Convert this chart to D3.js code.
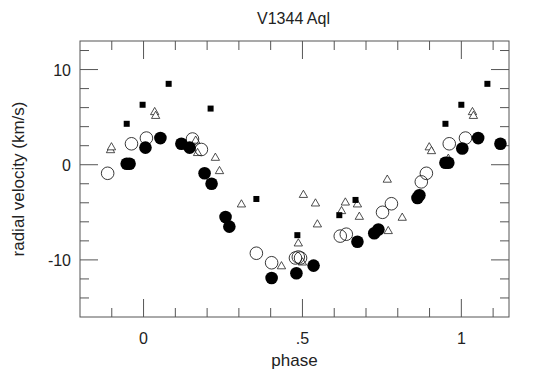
<!DOCTYPE html>
<html lang="en">
<head>
<meta charset="UTF-8">
<title>V1344 Aql</title>
<style>
  body { margin: 0; background: #fff; }
  text { font-family: "Liberation Sans", Arial, sans-serif; fill: #222; }
</style>
</head>
<body>
<div id="chart"></div>
<script src="https://d3js.org/d3.v7.min.js"></script>
<script>
  // radial velocity curve, four data sets
  const filledCircles = [
    [-0.053, 0.1], [-0.044, 0.1], [0.006, 1.8], [0.053, 2.8], [0.119, 2.2], [0.145, 1.8],
    [0.192, -0.9], [0.214, -2.0], [0.258, -5.5], [0.270, -6.5], [0.403, -11.9], [0.481, -11.4],
    [0.535, -10.6], [0.673, -8.1], [0.726, -7.2], [0.739, -6.8], [0.862, -3.5], [0.868, -3.2],
    [0.950, 0.2], [0.959, 0.2], [1.003, 1.7], [1.053, 2.8], [1.123, 2.2]
  ]
  const openCircles = [
    [-0.113, -0.9], [-0.038, 2.2], [0.009, 2.8], [0.154, 2.7], [0.182, 1.6], [0.355, -9.3],
    [0.403, -10.3], [0.478, -9.8], [0.487, -9.7], [0.494, -9.8], [0.619, -7.5], [0.638, -7.3],
    [0.752, -5.0], [0.780, -4.1], [0.874, -1.8], [0.890, -0.9], [0.962, 2.2], [1.013, 2.8]
  ]
  const squares = [
    [-0.053, 4.3], [-0.003, 6.3], [0.079, 8.5], [0.211, 5.9], [0.355, -3.6], [0.484, -7.4],
    [0.616, -5.3], [0.667, -3.7], [0.950, 4.3], [1.000, 6.3], [1.082, 8.5]
  ]
  const triangles = [
    [-0.104, 1.6], [-0.101, 1.9], [0.035, 5.6], [0.038, 5.2], [0.164, 2.6], [0.170, 1.3],
    [0.226, 0.8], [0.239, -0.6], [0.308, -4.1], [0.434, -10.6], [0.487, -8.2], [0.500, -10.2],
    [0.503, -3.1], [0.541, -4.0], [0.547, -6.2], [0.623, -4.8], [0.635, -3.9], [0.673, -4.1],
    [0.679, -5.4], [0.767, -1.5], [0.770, -6.9], [0.814, -5.5], [0.899, 1.9], [0.906, 1.5],
    [0.959, 0.7], [1.035, 5.6], [1.038, 5.2]
  ]
  const xMajor = [0, 0.5, 1]
  const xMajorLabels = ['0', '.5', '1']
  const xMinor = [-0.1, 0.1, 0.2, 0.3, 0.4, 0.6, 0.7, 0.8, 0.9, 1.1]
  const yMajor = [10, 0, -10]
  const yMinor = [12, 8, 6, 4, 2, -2, -4, -6, -8, -12, -14]

  const width = 540
  const height = 378
  const m = { left: 80, right: 31, top: 41, bottom: 61 }
  const svg = d3.select('#chart').append('svg')
    .attr('width', width).attr('height', height)

  const x = d3.scaleLinear().domain([-0.2, 1.15]).range([m.left, width - m.right])
  const y = d3.scaleLinear().domain([-16, 13]).range([height - m.bottom, m.top])
  const [x0, x1] = x.range()
  const [y0, y1] = y.range()
  const axisColor = '#555'

  // frame
  svg.append('rect')
    .attr('x', x0).attr('y', y1)
    .attr('width', x1 - x0).attr('height', y0 - y1)
    .attr('fill', 'none').attr('stroke', axisColor)

  // ticks on all four sides, pointing in
  const ticks = svg.append('g').attr('stroke', axisColor)
  const xt = xMajor.map(v => [v, 18]).concat(xMinor.map(v => [v, 9]))
  ticks.selectAll('.xb').data(xt).join('line')
    .attr('x1', d => x(d[0])).attr('x2', d => x(d[0]))
    .attr('y1', y0).attr('y2', d => y0 - d[1])
  ticks.selectAll('.xt').data(xt).join('line')
    .attr('x1', d => x(d[0])).attr('x2', d => x(d[0]))
    .attr('y1', y1).attr('y2', d => y1 + d[1])
  const yt = yMajor.map(v => [v, 18]).concat(yMinor.map(v => [v, 9]))
  ticks.selectAll('.yl').data(yt).join('line')
    .attr('y1', d => y(d[0])).attr('y2', d => y(d[0]))
    .attr('x1', x0).attr('x2', d => x0 + d[1])
  ticks.selectAll('.yr').data(yt).join('line')
    .attr('y1', d => y(d[0])).attr('y2', d => y(d[0]))
    .attr('x1', x1).attr('x2', d => x1 - d[1])

  // tick labels
  svg.append('g').selectAll('text').data(xMajor).join('text')
    .attr('x', d => x(d)).attr('y', y0 + 27)
    .attr('text-anchor', 'middle').attr('font-size', 16)
    .text((_, i) => xMajorLabels[i])
  svg.append('g').selectAll('text').data(yMajor).join('text')
    .attr('x', x0 - 9).attr('y', d => y(d) + 6)
    .attr('text-anchor', 'end').attr('font-size', 16)
    .text(d => d)

  // titles
  svg.append('text').attr('x', (x0 + x1) / 2 - 1).attr('y', 24)
    .attr('text-anchor', 'middle').attr('font-size', 16).text('V1344 Aql')
  svg.append('text').attr('x', (x0 + x1) / 2).attr('y', 366)
    .attr('text-anchor', 'middle').attr('font-size', 17).text('phase')
  svg.append('text')
    .attr('transform', `translate(24, ${ (y0 + y1) / 2 }) rotate(-90)`)
    .attr('text-anchor', 'middle').attr('font-size', 17).text('radial velocity (km/s)')

  // points
  const pts = svg.append('g')
  pts.selectAll('.tri').data(triangles).join('path')
    .attr('d', d3.symbol(d3.symbolTriangle, 30))
    .attr('transform', d => `translate(${ x(d[0]) }, ${ y(d[1]) + 0.8 })`)
    .attr('fill', '#fff').attr('stroke', '#222').attr('stroke-width', 0.8)
  pts.selectAll('.oc').data(openCircles).join('circle')
    .attr('cx', d => x(d[0])).attr('cy', d => y(d[1])).attr('r', 6.3)
    .attr('fill', 'none').attr('stroke', '#222').attr('stroke-width', 0.9)
  pts.selectAll('.sq').data(squares).join('rect')
    .attr('x', d => x(d[0]) - 3).attr('y', d => y(d[1]) - 3)
    .attr('width', 6).attr('height', 6).attr('fill', '#000')
  pts.selectAll('.fc').data(filledCircles).join('circle')
    .attr('cx', d => x(d[0])).attr('cy', d => y(d[1])).attr('r', 6.3)
    .attr('fill', '#000')
</script>
</body>
</html>
